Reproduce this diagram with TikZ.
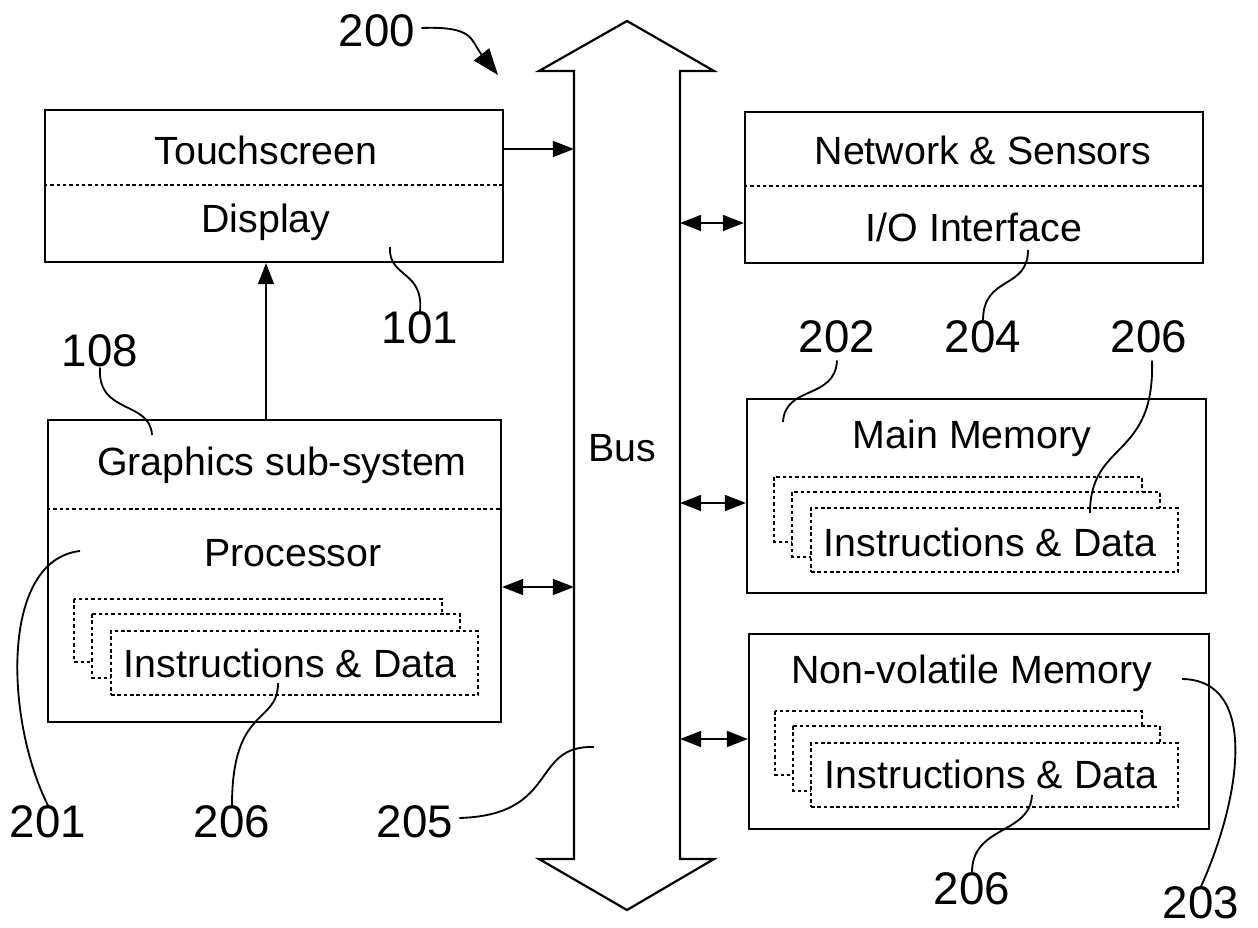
\documentclass[tikz,border=0pt]{standalone}
\usepackage{fontspec}
\setmainfont{Liberation Sans}
\usetikzlibrary{arrows.meta}
\begin{document}
\begin{tikzpicture}[x={(0.02cm,0)},y={(0,-0.02cm)},
  box/.style={draw,line width=1.25pt,inner sep=0pt,rectangle},
  btext/.style={font=\fontsize{22.4}{26}\selectfont,inner sep=0pt},
  num/.style={font=\fontsize{26}{30}\selectfont,inner sep=0pt},
  dotline/.style={line width=0.85pt,dash pattern=on 2pt off 1.6pt},
  dotbox/.style={dotline,fill=white},
  arr/.style={line width=1.2pt,-{Triangle[length=12pt,width=9pt]}},
  darr/.style={line width=1.2pt,{Triangle[length=12pt,width=9pt]}-{Triangle[length=12pt,width=9pt]}},
  lead/.style={line width=1.05pt}]
\useasboundingbox (0,0) rectangle (1258,928);
% bus
\draw[line width=1.25pt,line join=miter] (574,859) -- (574,71) -- (539,71) -- (627,21) -- (714,71) -- (680,71) -- (680,859) -- (714,859) -- (627,910) -- (539,859) -- cycle;
\coordinate (bl) at (574,0);
\coordinate (br) at (680,0);
\node[btext] (bus) at (622,448) {Bus};
% boxes
\node[box,minimum width=9.16cm,minimum height=3.04cm] (ts) at (274,186) {};
\node[box,minimum width=9.16cm,minimum height=3.02cm] (net) at (974,187.5) {};
\node[box,minimum width=9.06cm,minimum height=6.04cm] (gfx) at (274.5,571) {};
\node[box,minimum width=9.18cm,minimum height=3.88cm] (mm) at (976.5,496) {};
\node[box,minimum width=9.2cm,minimum height=3.9cm] (nv) at (979,731.5) {};
% dividers
\coordinate (d1) at (0,185);
\coordinate (d2) at (0,186);
\coordinate (d3) at (0,509);
\draw[dotline] (ts.west |- d1) -- (ts.east |- d1);
\draw[dotline] (net.west |- d2) -- (net.east |- d2);
\draw[dotline] (gfx.west |- d3) -- (gfx.east |- d3);
% box texts
\node[btext] (tst) at (266,150) {Touchscreen};
\node[btext] (dis) at (266,222) {Display};
\node[btext] (nst) at (983,150) {Network \& Sensors};
\node[btext] (iot) at (974,227) {I/O Interface};
\node[btext] (gst) at (282,465) {Graphics sub-system};
\node[btext] (prt) at (293,553) {Processor};
\node[btext] (mmt) at (972,438) {Main Memory};
\node[btext] (nvt) at (972,673) {Non-volatile Memory};
% stacks
\draw[dotbox] (74,599) rectangle (442,662);
\draw[dotbox] (92,614) rectangle (460,678);
\node[dotbox,draw,minimum width=7.34cm,minimum height=1.28cm,inner sep=0pt] (gid) at (294.5,663) {};
\node[btext] (gidt) at (290,663) {Instructions \& Data};
\draw[dotbox] (774,477) rectangle (1142,542);
\draw[dotbox] (792,492) rectangle (1160,557);
\node[dotbox,draw,minimum width=7.34cm,minimum height=1.28cm,inner sep=0pt] (mid) at (994.5,540) {};
\node[btext] (midt) at (990,542) {Instructions \& Data};
\draw[dotbox] (775,711) rectangle (1142,775);
\draw[dotbox] (793,726) rectangle (1160,791);
\node[dotbox,draw,minimum width=7.34cm,minimum height=1.28cm,inner sep=0pt] (nid) at (994.5,775) {};
\node[btext] (nidt) at (991,774) {Instructions \& Data};
% connectors
\coordinate (a1) at (0,149);
\coordinate (a2) at (0,223);
\coordinate (a3) at (0,587);
\coordinate (a4) at (0,503);
\coordinate (a5) at (0,739);
\coordinate (xg) at (266,0);
\draw[arr] (ts.east |- a1) -- (bl |- a1);
\draw[darr] (br |- a2) -- (net.west |- a2);
\draw[darr] (gfx.east |- a3) -- (bl |- a3);
\draw[darr] (br |- a4) -- (mm.west |- a4);
\draw[darr] (br |- a5) -- (nv.west |- a5);
\draw[arr] (gfx.north -| xg) -- (ts.south -| xg);
% reference numerals
\node[num] (n200) at (377,31) {200};
\node[num] (n101) at (420,328) {101};
\node[num] (n108) at (100,351) {108};
\node[num] (n201) at (48,822) {201};
\node[num] (n206a) at (232,822) {206};
\node[num] (n205) at (415,822) {205};
\node[num] (n202) at (837,337) {202};
\node[num] (n204) at (983,337) {204};
\node[num] (n206b) at (1149,337) {206};
\node[num] (n206c) at (972,889) {206};
\node[num] (n203) at (1201,903) {203};
% leaders
\coordinate (t200) at (498,75);
\coordinate (s101) at (390,247);
\coordinate (s108) at (152,435);
\coordinate (s201) at (80,551);
\coordinate (s206a) at (278,683);
\coordinate (s205) at (594,747);
\coordinate (s202) at (783,422);
\coordinate (s204) at (1028,250);
\coordinate (s206b) at (1090,513);
\coordinate (s206c) at (1032,795);
\coordinate (s203) at (1182,679);
\draw[lead,-{Triangle[length=15pt,width=11pt]}] (n200.east) ++(6,-3) .. controls (475,26) and (470,40) .. (t200);
\draw[lead] (s101) .. controls (388,278) and (424,270) .. (n101.north);
\draw[lead] (n108.south) .. controls (97,415) and (150,400) .. (s108);
\draw[lead] (s201) .. controls (0,560) and (5,720) .. (n201.north);
\draw[lead] (s206a) .. controls (278,725) and (232,705) .. (n206a.north);
\draw[lead] (n205.east) ++(6,-4) .. controls (560,815) and (530,745) .. (s205);
\draw[lead] (n202.south) ++(0,7) .. controls (835,400) and (785,385) .. (s202);
\draw[lead] (s204) .. controls (1028,290) and (983,275) .. (n204.north);
\draw[lead] (n206b.south) ++(3,7) .. controls (1155,460) and (1090,440) .. (s206b);
\draw[lead] (s206c) .. controls (1030,835) and (972,825) .. (n206c.north);
\draw[lead] (s203) .. controls (1260,680) and (1240,800) .. (n203.north);
\end{tikzpicture}
\end{document}
